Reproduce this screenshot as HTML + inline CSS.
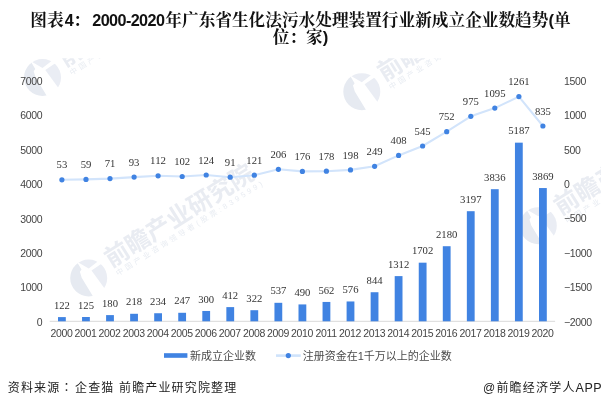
<!DOCTYPE html>
<html lang="zh"><head><meta charset="utf-8"><title>chart</title>
<style>
html,body{margin:0;padding:0;background:#fff;}
body{width:601px;height:407px;overflow:hidden;position:relative;font-family:"Liberation Sans","Noto Sans CJK SC",sans-serif;}
#title{position:absolute;left:0;top:12.3px;width:601px;text-align:center;font-family:"Liberation Sans","Noto Serif CJK SC",serif;font-weight:bold;font-size:16.66px;line-height:17px;color:#111;white-space:nowrap;}
#title .n{font-size:16.2px;letter-spacing:-0.6px;}
#src{position:absolute;left:7.8px;top:377.5px;font-size:12px;line-height:18px;letter-spacing:1.15px;color:#222;white-space:nowrap;}
#app{position:absolute;left:483px;top:378.5px;font-size:12px;line-height:18px;letter-spacing:1.2px;color:#222;white-space:nowrap;}
#app .l{letter-spacing:0.5px;font-size:12.5px;}
#src .k{font-family:"Noto Sans CJK JP",sans-serif;margin-right:1.5px;}
svg{position:absolute;left:0;top:0;}
.ax{font-family:"Liberation Sans",sans-serif;font-size:10.5px;letter-spacing:-0.35px;fill:#454545;}
.dl{font-family:"Liberation Serif",serif;font-size:11.4px;fill:#333;}
.lg{font-family:"Liberation Sans","Noto Sans CJK SC",sans-serif;font-size:11px;fill:#4a4a4a;}
.wm{font-family:"Liberation Sans","Noto Sans CJK SC",sans-serif;font-weight:700;fill:#e9ecf2;}
.wms{font-family:"Liberation Sans","Noto Sans CJK SC",sans-serif;fill:#e8ecf2;}
</style></head><body>
<div id="title"><span class="c">图表</span><span class="n" style="margin-left:1.2px">4</span>：<span class="n" style="margin-left:2.4px;margin-right:1px">2000-2020</span>年广东省生化法污水处理装置行业新成立企业数趋势(单<br>位：家)</div>

<svg width="601" height="407" viewBox="0 0 601 407">
<defs><clipPath id="lc"><circle cx="0" cy="0" r="18.5"/></clipPath><clipPath id="cp"><rect x="0" y="58.3" width="601" height="320"/></clipPath>
</defs>
<g clip-path="url(#cp)">
<g transform="translate(42.5 77.5)"><g clip-path="url(#lc)" fill="#eaedf4">
<polygon fill="#e6eaf1" points="-13.8,-19.5 -7.2,-8.5 -8.8,-6.3 -7,-0.2 4.4,18.6 4.4,30 -30,30 -30,-30 -13.8,-30"/>
<polygon points="-16,-18.8 0,-9.4 14,-20.3 14,-30 -16,-30"/>
<polygon points="2.8,-7.4 16,-16.4 30,-16.4 30,14.8 19,14.8"/>
</g>
<g transform="rotate(-32)">
<text class="wm" x="24.4" y="3.5" font-size="24.4">前瞻产业研究院</text>
<text class="wms" x="25.9" y="13.9" font-size="7.5" textLength="171">中国产业咨询领导者(股票:839599)</text>
</g></g>
<g transform="translate(361.8 91.7)"><g clip-path="url(#lc)" fill="#eaedf4">
<polygon fill="#e6eaf1" points="-13.8,-19.5 -7.2,-8.5 -8.8,-6.3 -7,-0.2 4.4,18.6 4.4,30 -30,30 -30,-30 -13.8,-30"/>
<polygon points="-16,-18.8 0,-9.4 14,-20.3 14,-30 -16,-30"/>
<polygon points="2.8,-7.4 16,-16.4 30,-16.4 30,14.8 19,14.8"/>
</g>
<g transform="rotate(-32)">
<text class="wm" x="24.4" y="3.5" font-size="24.4">前瞻产业研究院</text>
<text class="wms" x="25.9" y="13.9" font-size="7.5" textLength="171">中国产业咨询领导者(股票:839599)</text>
</g></g>
<g transform="translate(88.7 278.0)"><g clip-path="url(#lc)" fill="#eaedf4">
<polygon fill="#e6eaf1" points="-13.8,-19.5 -7.2,-8.5 -8.8,-6.3 -7,-0.2 4.4,18.6 4.4,30 -30,30 -30,-30 -13.8,-30"/>
<polygon points="-16,-18.8 0,-9.4 14,-20.3 14,-30 -16,-30"/>
<polygon points="2.8,-7.4 16,-16.4 30,-16.4 30,14.8 19,14.8"/>
</g>
<g transform="rotate(-32)">
<text class="wm" x="24.4" y="3.5" font-size="24.4">前瞻产业研究院</text>
<text class="wms" x="25.9" y="13.9" font-size="7.5" textLength="171">中国产业咨询领导者(股票:839599)</text>
</g></g>
<g transform="translate(538.3 225.7)"><g clip-path="url(#lc)" fill="#eaedf4">
<polygon fill="#e6eaf1" points="-13.8,-19.5 -7.2,-8.5 -8.8,-6.3 -7,-0.2 4.4,18.6 4.4,30 -30,30 -30,-30 -13.8,-30"/>
<polygon points="-16,-18.8 0,-9.4 14,-20.3 14,-30 -16,-30"/>
<polygon points="2.8,-7.4 16,-16.4 30,-16.4 30,14.8 19,14.8"/>
</g>
<g transform="rotate(-32)">
<text class="wm" x="24.4" y="3.5" font-size="24.4">前瞻产业研究院</text>
<text class="wms" x="25.9" y="13.9" font-size="7.5" textLength="171">中国产业咨询领导者(股票:839599)</text>
</g></g>
</g>
<line x1="49.7" y1="321.3" x2="555.1" y2="321.3" stroke="#d9d9d9" stroke-width="1"/>
<text class="ax" x="42.3" y="325.8" text-anchor="end">0</text>
<text class="ax" x="42.3" y="291.4" text-anchor="end">1000</text>
<text class="ax" x="42.3" y="256.9" text-anchor="end">2000</text>
<text class="ax" x="42.3" y="222.5" text-anchor="end">3000</text>
<text class="ax" x="42.3" y="188.0" text-anchor="end">4000</text>
<text class="ax" x="42.3" y="153.6" text-anchor="end">5000</text>
<text class="ax" x="42.3" y="119.2" text-anchor="end">6000</text>
<text class="ax" x="42.3" y="84.7" text-anchor="end">7000</text>
<text class="ax" x="564.0" y="325.8">−2000</text>
<text class="ax" x="564.0" y="291.3">−1500</text>
<text class="ax" x="564.0" y="256.9">−1000</text>
<text class="ax" x="564.0" y="222.4">−500</text>
<text class="ax" x="564.0" y="188.0">0</text>
<text class="ax" x="564.0" y="153.6">500</text>
<text class="ax" x="564.0" y="119.1">1000</text>
<text class="ax" x="564.0" y="84.7">1500</text>
<rect x="58.00" y="317.10" width="7.8" height="4.20" fill="#4083e2"/>
<text class="dl" x="61.9" y="308.7" text-anchor="middle" textLength="16.0" lengthAdjust="spacingAndGlyphs">122</text>
<text class="ax" x="61.5" y="337.0" text-anchor="middle">2000</text>
<rect x="82.05" y="317.00" width="7.8" height="4.30" fill="#4083e2"/>
<text class="dl" x="86.0" y="308.6" text-anchor="middle" textLength="16.0" lengthAdjust="spacingAndGlyphs">125</text>
<text class="ax" x="85.5" y="337.0" text-anchor="middle">2001</text>
<rect x="106.10" y="315.10" width="7.8" height="6.20" fill="#4083e2"/>
<text class="dl" x="110.0" y="306.7" text-anchor="middle" textLength="16.0" lengthAdjust="spacingAndGlyphs">180</text>
<text class="ax" x="109.6" y="337.0" text-anchor="middle">2002</text>
<rect x="130.15" y="313.79" width="7.8" height="7.51" fill="#4083e2"/>
<text class="dl" x="134.1" y="305.4" text-anchor="middle" textLength="16.0" lengthAdjust="spacingAndGlyphs">218</text>
<text class="ax" x="133.7" y="337.0" text-anchor="middle">2003</text>
<rect x="154.20" y="313.24" width="7.8" height="8.06" fill="#4083e2"/>
<text class="dl" x="158.1" y="304.8" text-anchor="middle" textLength="16.0" lengthAdjust="spacingAndGlyphs">234</text>
<text class="ax" x="157.7" y="337.0" text-anchor="middle">2004</text>
<rect x="178.25" y="312.79" width="7.8" height="8.51" fill="#4083e2"/>
<text class="dl" x="182.2" y="304.4" text-anchor="middle" textLength="16.0" lengthAdjust="spacingAndGlyphs">247</text>
<text class="ax" x="181.8" y="337.0" text-anchor="middle">2005</text>
<rect x="202.30" y="310.97" width="7.8" height="10.33" fill="#4083e2"/>
<text class="dl" x="206.2" y="302.6" text-anchor="middle" textLength="16.0" lengthAdjust="spacingAndGlyphs">300</text>
<text class="ax" x="205.8" y="337.0" text-anchor="middle">2006</text>
<rect x="226.35" y="307.11" width="7.8" height="14.19" fill="#4083e2"/>
<text class="dl" x="230.2" y="298.7" text-anchor="middle" textLength="16.0" lengthAdjust="spacingAndGlyphs">412</text>
<text class="ax" x="229.8" y="337.0" text-anchor="middle">2007</text>
<rect x="250.40" y="310.21" width="7.8" height="11.09" fill="#4083e2"/>
<text class="dl" x="254.3" y="301.8" text-anchor="middle" textLength="16.0" lengthAdjust="spacingAndGlyphs">322</text>
<text class="ax" x="253.9" y="337.0" text-anchor="middle">2008</text>
<rect x="274.45" y="302.81" width="7.8" height="18.49" fill="#4083e2"/>
<text class="dl" x="278.4" y="294.4" text-anchor="middle" textLength="16.0" lengthAdjust="spacingAndGlyphs">537</text>
<text class="ax" x="278.0" y="337.0" text-anchor="middle">2009</text>
<rect x="298.50" y="304.42" width="7.8" height="16.88" fill="#4083e2"/>
<text class="dl" x="302.4" y="296.0" text-anchor="middle" textLength="16.0" lengthAdjust="spacingAndGlyphs">490</text>
<text class="ax" x="302.0" y="337.0" text-anchor="middle">2010</text>
<rect x="322.55" y="301.94" width="7.8" height="19.36" fill="#4083e2"/>
<text class="dl" x="326.4" y="293.5" text-anchor="middle" textLength="16.0" lengthAdjust="spacingAndGlyphs">562</text>
<text class="ax" x="326.1" y="337.0" text-anchor="middle">2011</text>
<rect x="346.60" y="301.46" width="7.8" height="19.84" fill="#4083e2"/>
<text class="dl" x="350.5" y="293.1" text-anchor="middle" textLength="16.0" lengthAdjust="spacingAndGlyphs">576</text>
<text class="ax" x="350.1" y="337.0" text-anchor="middle">2012</text>
<rect x="370.65" y="292.23" width="7.8" height="29.07" fill="#4083e2"/>
<text class="dl" x="374.6" y="283.8" text-anchor="middle" textLength="16.0" lengthAdjust="spacingAndGlyphs">844</text>
<text class="ax" x="374.2" y="337.0" text-anchor="middle">2013</text>
<rect x="394.70" y="276.11" width="7.8" height="45.19" fill="#4083e2"/>
<text class="dl" x="398.6" y="267.7" text-anchor="middle" textLength="21.4" lengthAdjust="spacingAndGlyphs">1312</text>
<text class="ax" x="398.2" y="337.0" text-anchor="middle">2014</text>
<rect x="418.75" y="262.68" width="7.8" height="58.62" fill="#4083e2"/>
<text class="dl" x="422.6" y="254.3" text-anchor="middle" textLength="21.4" lengthAdjust="spacingAndGlyphs">1702</text>
<text class="ax" x="422.2" y="337.0" text-anchor="middle">2015</text>
<rect x="442.80" y="246.22" width="7.8" height="75.08" fill="#4083e2"/>
<text class="dl" x="446.7" y="237.8" text-anchor="middle" textLength="21.4" lengthAdjust="spacingAndGlyphs">2180</text>
<text class="ax" x="446.3" y="337.0" text-anchor="middle">2016</text>
<rect x="466.85" y="211.20" width="7.8" height="110.10" fill="#4083e2"/>
<text class="dl" x="470.8" y="202.8" text-anchor="middle" textLength="21.4" lengthAdjust="spacingAndGlyphs">3197</text>
<text class="ax" x="470.4" y="337.0" text-anchor="middle">2017</text>
<rect x="490.90" y="189.19" width="7.8" height="132.11" fill="#4083e2"/>
<text class="dl" x="494.8" y="180.8" text-anchor="middle" textLength="21.4" lengthAdjust="spacingAndGlyphs">3836</text>
<text class="ax" x="494.4" y="337.0" text-anchor="middle">2018</text>
<rect x="514.95" y="142.66" width="7.8" height="178.64" fill="#4083e2"/>
<text class="dl" x="518.9" y="134.3" text-anchor="middle" textLength="21.4" lengthAdjust="spacingAndGlyphs">5187</text>
<text class="ax" x="518.5" y="337.0" text-anchor="middle">2019</text>
<rect x="539.00" y="188.05" width="7.8" height="133.25" fill="#4083e2"/>
<text class="dl" x="542.9" y="179.7" text-anchor="middle" textLength="21.4" lengthAdjust="spacingAndGlyphs">3869</text>
<text class="ax" x="542.5" y="337.0" text-anchor="middle">2020</text>
<polyline points="61.9,179.8 86.0,179.4 110.0,178.6 134.1,177.1 158.1,175.8 182.2,176.5 206.2,175.0 230.2,177.2 254.3,175.2 278.4,169.3 302.4,171.4 326.4,171.2 350.5,169.9 374.6,166.3 398.6,155.4 422.6,146.0 446.7,131.7 470.8,116.3 494.8,108.1 518.9,96.6 542.9,126.0" fill="none" stroke="#d2e4fb" stroke-width="2.1" stroke-linejoin="round" stroke-linecap="round"/>
<circle cx="61.9" cy="179.8" r="2.6" fill="#4083e2"/>
<text class="dl" x="61.9" y="168.4" text-anchor="middle" textLength="10.7" lengthAdjust="spacingAndGlyphs">53</text>
<circle cx="86.0" cy="179.4" r="2.6" fill="#4083e2"/>
<text class="dl" x="86.0" y="168.0" text-anchor="middle" textLength="10.7" lengthAdjust="spacingAndGlyphs">59</text>
<circle cx="110.0" cy="178.6" r="2.6" fill="#4083e2"/>
<text class="dl" x="110.0" y="167.2" text-anchor="middle" textLength="10.7" lengthAdjust="spacingAndGlyphs">71</text>
<circle cx="134.1" cy="177.1" r="2.6" fill="#4083e2"/>
<text class="dl" x="134.1" y="165.7" text-anchor="middle" textLength="10.7" lengthAdjust="spacingAndGlyphs">93</text>
<circle cx="158.1" cy="175.8" r="2.6" fill="#4083e2"/>
<text class="dl" x="158.1" y="164.4" text-anchor="middle" textLength="16.0" lengthAdjust="spacingAndGlyphs">112</text>
<circle cx="182.2" cy="176.5" r="2.6" fill="#4083e2"/>
<text class="dl" x="182.2" y="165.1" text-anchor="middle" textLength="16.0" lengthAdjust="spacingAndGlyphs">102</text>
<circle cx="206.2" cy="175.0" r="2.6" fill="#4083e2"/>
<text class="dl" x="206.2" y="163.6" text-anchor="middle" textLength="16.0" lengthAdjust="spacingAndGlyphs">124</text>
<circle cx="230.2" cy="177.2" r="2.6" fill="#4083e2"/>
<text class="dl" x="230.2" y="165.8" text-anchor="middle" textLength="10.7" lengthAdjust="spacingAndGlyphs">91</text>
<circle cx="254.3" cy="175.2" r="2.6" fill="#4083e2"/>
<text class="dl" x="254.3" y="163.8" text-anchor="middle" textLength="16.0" lengthAdjust="spacingAndGlyphs">121</text>
<circle cx="278.4" cy="169.3" r="2.6" fill="#4083e2"/>
<text class="dl" x="278.4" y="157.9" text-anchor="middle" textLength="16.0" lengthAdjust="spacingAndGlyphs">206</text>
<circle cx="302.4" cy="171.4" r="2.6" fill="#4083e2"/>
<text class="dl" x="302.4" y="160.0" text-anchor="middle" textLength="16.0" lengthAdjust="spacingAndGlyphs">176</text>
<circle cx="326.4" cy="171.2" r="2.6" fill="#4083e2"/>
<text class="dl" x="326.4" y="159.8" text-anchor="middle" textLength="16.0" lengthAdjust="spacingAndGlyphs">178</text>
<circle cx="350.5" cy="169.9" r="2.6" fill="#4083e2"/>
<text class="dl" x="350.5" y="158.5" text-anchor="middle" textLength="16.0" lengthAdjust="spacingAndGlyphs">198</text>
<circle cx="374.6" cy="166.3" r="2.6" fill="#4083e2"/>
<text class="dl" x="374.6" y="154.9" text-anchor="middle" textLength="16.0" lengthAdjust="spacingAndGlyphs">249</text>
<circle cx="398.6" cy="155.4" r="2.6" fill="#4083e2"/>
<text class="dl" x="398.6" y="144.0" text-anchor="middle" textLength="16.0" lengthAdjust="spacingAndGlyphs">408</text>
<circle cx="422.6" cy="146.0" r="2.6" fill="#4083e2"/>
<text class="dl" x="422.6" y="134.6" text-anchor="middle" textLength="16.0" lengthAdjust="spacingAndGlyphs">545</text>
<circle cx="446.7" cy="131.7" r="2.6" fill="#4083e2"/>
<text class="dl" x="446.7" y="120.3" text-anchor="middle" textLength="16.0" lengthAdjust="spacingAndGlyphs">752</text>
<circle cx="470.8" cy="116.3" r="2.6" fill="#4083e2"/>
<text class="dl" x="470.8" y="104.9" text-anchor="middle" textLength="16.0" lengthAdjust="spacingAndGlyphs">975</text>
<circle cx="494.8" cy="108.1" r="2.6" fill="#4083e2"/>
<text class="dl" x="494.8" y="96.7" text-anchor="middle" textLength="21.4" lengthAdjust="spacingAndGlyphs">1095</text>
<circle cx="518.9" cy="96.6" r="2.6" fill="#4083e2"/>
<text class="dl" x="518.9" y="85.2" text-anchor="middle" textLength="21.4" lengthAdjust="spacingAndGlyphs">1261</text>
<circle cx="542.9" cy="126.0" r="2.6" fill="#4083e2"/>
<text class="dl" x="542.9" y="114.6" text-anchor="middle" textLength="16.0" lengthAdjust="spacingAndGlyphs">835</text>
<rect x="164" y="353.2" width="23.4" height="4.6" fill="#4083e2"/>
<text class="lg" x="190" y="359.8">新成立企业数</text>
<line x1="276" y1="355.6" x2="300.7" y2="355.6" stroke="#cfe3fb" stroke-width="2.6"/>
<circle cx="288.3" cy="355.6" r="2.6" fill="#4083e2"/>
<text class="lg" x="302.7" y="359.8">注册资金在1千万以上的企业数</text>
</svg>
<div id="src">资料来源<span class="k" lang="ja">：</span>企查猫 前瞻产业研究院整理</div>
<div id="app">@前瞻经济学人<span class="l">APP</span></div>
</body></html>
